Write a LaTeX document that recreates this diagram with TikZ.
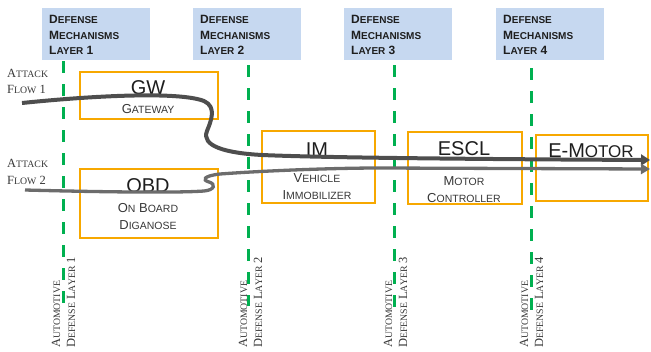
\documentclass[tikz,border=0pt]{standalone}
\usepackage{fontspec}
\setmainfont{Liberation Serif}
\setsansfont{Liberation Sans}
\usetikzlibrary{arrows.meta}

\definecolor{hdrblue}{RGB}{198,216,240}
\definecolor{boxorange}{RGB}{247,168,0}
\definecolor{layergreen}{RGB}{0,176,80}
\definecolor{flowdark}{RGB}{78,78,78}
\definecolor{flowlight}{RGB}{108,108,108}
\definecolor{txtdark}{RGB}{30,30,30}
\definecolor{txtgray}{RGB}{55,55,55}

% hand-made small capitals: the first letter keeps the running size,
% the rest is set smaller
\newcommand\hdsc[2]{#1{\fontsize{10}{10}\selectfont #2}}
\newcommand\bxsc[2]{#1{\fontsize{10.5}{10.5}\selectfont #2}}
\newcommand\lbsc[2]{#1{\fontsize{9.8}{9.8}\selectfont #2}}
\newcommand\ttsc[2]{#1{\fontsize{17}{17}\selectfont #2}}

\begin{document}
\begin{tikzpicture}[x=1pt,y=-1pt,
  hdrbox/.style={anchor=north west,fill=hdrblue,draw=none,inner sep=0pt,
    minimum width=108pt,minimum height=52pt},
  hdrtxt/.style={anchor=base west,inner sep=0pt,text=txtdark,
    font=\sffamily\bfseries\fontsize{12}{12}\selectfont},
  unitbox/.style={anchor=north west,draw=boxorange,line width=2pt,inner sep=0pt},
  unittitle/.style={anchor=base,inner sep=0pt,text=txtdark,
    font=\sffamily\fontsize{20}{20}\selectfont},
  unitsub/.style={anchor=base,inner sep=0pt,text=txtgray,
    font=\sffamily\fontsize{13}{13}\selectfont},
  flowlabel/.style={anchor=base west,inner sep=0pt,text=txtgray,
    font=\rmfamily\fontsize{12.5}{12.5}\selectfont},
  layerlabel/.style={anchor=base west,rotate=90,inner sep=0pt,text=txtgray,
    font=\rmfamily\fontsize{12.5}{12.5}\selectfont},
  layerline/.style={draw=layergreen,line width=3pt,dash pattern=on 12pt off 11pt},
  flowone/.style={draw=flowdark,line width=4pt,
    -{Triangle[length=9pt,width=11pt]}},
  flowtwo/.style={draw=flowlight,line width=3.3pt,
    -{Triangle[length=9pt,width=10pt]}}
]
\useasboundingbox (0,0) rectangle (651,351);

% ---- defense mechanism headers ----
\node[hdrbox] (h1) at (42,8) {};
\node[hdrbox] (h2) at (193,8) {};
\node[hdrbox] (h3) at (344,8) {};
\node[hdrbox] (h4) at (496,8) {};
\foreach \n/\x in {1/49,2/200,3/351,4/503}{
  \node[hdrtxt] (h\n a) at (\x,23) {\hdsc{D}{EFENSE}};
  \node[hdrtxt] (h\n b) at (\x,39) {\hdsc{M}{ECHANISMS}};
  \node[hdrtxt] (h\n c) at (\x,54) {\hdsc{L}{AYER} \n};
}

% ---- dashed layer boundaries ----
\coordinate (l1t) at (63,61);  \coordinate (l1b) at (63,304);
\coordinate (l2t) at (248,65); \coordinate (l2b) at (248,306);
\coordinate (l3t) at (394,65); \coordinate (l3b) at (394,310);
\coordinate (l4t) at (531,68); \coordinate (l4b) at (531,312);
\foreach \n in {1,2,3,4}{ \draw[layerline] (l\n t) -- (l\n b); }

% ---- rotated layer captions ----
\node[layerlabel] (a1) at (60,348)  {\lbsc{A}{UTOMOTIVE}};
\node[layerlabel] (d1) at (75,348)  {\lbsc{D}{EFENSE} \lbsc{L}{AYER} 1};
\node[layerlabel] (a2) at (247,348) {\lbsc{A}{UTOMOTIVE}};
\node[layerlabel] (d2) at (262,348) {\lbsc{D}{EFENSE} \lbsc{L}{AYER} 2};
\node[layerlabel] (a3) at (392,348) {\lbsc{A}{UTOMOTIVE}};
\node[layerlabel] (d3) at (407,348) {\lbsc{D}{EFENSE} \lbsc{L}{AYER} 3};
\node[layerlabel] (a4) at (528,348) {\lbsc{A}{UTOMOTIVE}};
\node[layerlabel] (d4) at (543,348) {\lbsc{D}{EFENSE} \lbsc{L}{AYER} 4};

% ---- attack flow captions ----
\node[flowlabel] (af1a) at (7,77)  {\lbsc{A}{TTACK}};
\node[flowlabel] (af1b) at (7,93)  {\lbsc{F}{LOW} 1};
\node[flowlabel] (af2a) at (7,167) {\lbsc{A}{TTACK}};
\node[flowlabel] (af2b) at (7,184) {\lbsc{F}{LOW} 2};

% ---- vehicle units ----
\node[unitbox,minimum width=138pt,minimum height=47pt] (gw)   at (79,71)   {};
\node[unitbox,minimum width=138pt,minimum height=69pt] (obd)  at (79,168)  {};
\node[unitbox,minimum width=113pt,minimum height=72pt] (im)   at (261,130) {};
\node[unitbox,minimum width=114pt,minimum height=72pt] (escl) at (407,131) {};
\node[unitbox,minimum width=112pt,minimum height=66pt] (emot) at (535,134) {};

\node[unittitle] (gwt)   at (148,94)  {GW};
\node[unitsub]   (gws)   at (148,113) {\bxsc{G}{ATEWAY}};
\node[unittitle] (obdt)  at (148,192) {OBD};
\node[unitsub]   (obds1) at (148,212) {\bxsc{O}{N} \bxsc{B}{OARD}};
\node[unitsub]   (obds2) at (148,229) {\bxsc{D}{IGANOSE}};
\node[unittitle] (imt)   at (317,156) {IM};
\node[unitsub]   (ims1)  at (317,182) {\bxsc{V}{EHICLE}};
\node[unitsub]   (ims2)  at (317,199) {\bxsc{I}{MMOBILIZER}};
\node[unittitle] (esclt) at (464,155) {ESCL};
\node[unitsub]   (escs1) at (464,185) {\bxsc{M}{OTOR}};
\node[unitsub]   (escs2) at (464,202) {\bxsc{C}{ONTROLLER}};
\node[unittitle] (emt)   at (591,157) {\ttsc{E-M}{OTOR}};

% ---- attack flows ----
\coordinate (f1s) at (22,103);
\coordinate (f1e) at (650,160);
\coordinate (f2s) at (25,190);
\coordinate (f2e) at (650,169);

\draw[flowone] (f1s)
  .. controls (90,96) and (178,91) .. (204,101)
  .. controls (217,107) and (211,121) .. (207,131)
  .. controls (201,146) and (225,153) .. (262,155)
  .. controls (320,157.5) and (450,159) .. (f1e);

\draw[flowtwo] (f2s)
  .. controls (100,192) and (178,193) .. (204,191)
  .. controls (215,190) and (216,184) .. (209,182)
  .. controls (202,180) and (203,176) .. (220,174)
  .. controls (260,171) and (330,168) .. (380,168)
  -- (f2e);
\end{tikzpicture}
\end{document}
